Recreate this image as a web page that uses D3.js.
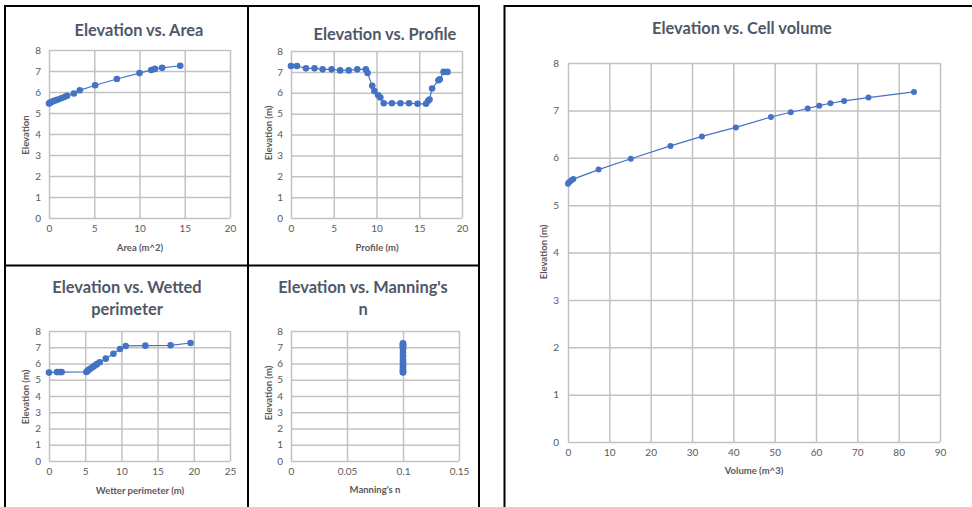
<!DOCTYPE html>
<html>
<head>
<meta charset="utf-8">
<script src="https://cdn.jsdelivr.net/npm/d3@7"></script>
<style>
  html, body { margin: 0; padding: 0; background: #fff; }
  svg { display: block; }
  text { font-family: Lato, "Open Sans", sans-serif; }
</style>
</head>
<body>
<svg id="chart" width="972" height="507"></svg>
<script>
// Elevation vs. Area
const areaValues = [0, 0.1, 0.25, 0.45, 0.7, 1.0, 1.35, 1.7, 2.0, 2.75, 3.4, 5.1, 7.5, 10.0, 11.3, 11.7, 12.5, 14.5];
const areaElevation = [5.45, 5.48, 5.52, 5.56, 5.6, 5.64, 5.7, 5.76, 5.82, 5.93, 6.08, 6.32, 6.62, 6.9, 7.05, 7.1, 7.15, 7.25];

// Elevation vs. Profile
const profileValues = [0, 0.7, 1.75, 2.75, 3.7, 4.75, 5.75, 6.75, 7.75, 8.75, 8.95, 9.5, 9.75, 10.2, 10.45, 10.85, 11.8, 12.8, 13.8, 14.8, 15.8, 16.05, 16.2, 16.5, 17.25, 17.4, 17.85, 18.3];
const profileElevation = [7.28, 7.28, 7.17, 7.17, 7.12, 7.12, 7.07, 7.07, 7.12, 7.12, 6.95, 6.33, 6.08, 5.88, 5.77, 5.5, 5.5, 5.5, 5.5, 5.47, 5.47, 5.62, 5.68, 6.2, 6.6, 6.65, 7.0, 7.0];

// Elevation vs. Wetted perimeter
const perimeterValues = [0, 1.1, 1.45, 1.75, 5.17, 5.35, 5.6, 5.85, 6.1, 6.35, 6.6, 7.0, 7.84, 8.9, 9.8, 10.6, 13.3, 16.8, 19.55];
const perimeterElevation = [5.44, 5.47, 5.47, 5.47, 5.48, 5.56, 5.64, 5.72, 5.8, 5.88, 5.96, 6.08, 6.3, 6.6, 6.89, 7.08, 7.1, 7.12, 7.26];

// Elevation vs. Manning's n
const manningValues = [0.1, 0.1, 0.1, 0.1, 0.1, 0.1, 0.1, 0.1, 0.1, 0.1, 0.1, 0.1, 0.1, 0.1, 0.1, 0.1, 0.1, 0.1];
const manningElevation = [5.45, 5.5, 5.55, 5.65, 5.75, 5.85, 5.98, 6.1, 6.25, 6.45, 6.65, 6.85, 6.97, 7.05, 7.1, 7.15, 7.2, 7.25];

// Elevation vs. Cell volume
const volumeValues = [0, 0.15, 0.5, 0.9, 1.3, 7.4, 15.2, 24.8, 32.4, 40.6, 49.1, 53.9, 58, 60.8, 63.5, 66.8, 72.7, 83.7];
const volumeElevation = [5.45, 5.48, 5.5, 5.53, 5.55, 5.75, 5.98, 6.25, 6.45, 6.64, 6.86, 6.96, 7.04, 7.1, 7.15, 7.2, 7.27, 7.39];

// Axis ticks
const elevationTicks = [0, 1, 2, 3, 4, 5, 6, 7, 8];
const areaTicks = [0, 5, 10, 15, 20];
const profileTicks = [0, 5, 10, 15, 20];
const perimeterTicks = [0, 5, 10, 15, 20, 25];
const manningTicks = [0, 0.05, 0.1, 0.15];
const manningTickLabels = ["0", "0.05", "0.1", "0.15"];
const volumeTicks = [0, 10, 20, 30, 40, 50, 60, 70, 80, 90];

const svg = d3.select("#chart");
const TITLE = "#4f5868";
const LABEL = "#595959";
const GRID = "#c2c2c2";
const SERIES = "#4472c4";

function drawPanel(cfg) {
  const x = d3.scaleLinear().domain([cfg.xTicks[0], cfg.xTicks[cfg.xTicks.length - 1]]).range([cfg.left, cfg.right]);
  const y = d3.scaleLinear().domain([0, 8]).range([cfg.bottom, cfg.top]);
  const g = svg.append("g");

  // gridlines and tick labels
  g.append("g")
    .attr("transform", `translate(0,${cfg.bottom})`)
    .call(d3.axisBottom(x).tickValues(cfg.xTicks).tickSize(-(cfg.bottom - cfg.top))
      .tickFormat((d, i) => cfg.xLabels ? cfg.xLabels[i] : d3.format("~g")(d)).tickPadding(7))
    .call(a => a.select(".domain").remove())
    .call(a => a.selectAll("line").attr("stroke", GRID).attr("stroke-width", 1.5))
    .call(a => a.selectAll("text").attr("fill", LABEL).attr("font-size", cfg.tickSize)
      .style("font-family", "Lato, sans-serif"));

  g.append("g")
    .attr("transform", `translate(${cfg.left},0)`)
    .call(d3.axisLeft(y).tickValues(elevationTicks).tickSize(-(cfg.right - cfg.left)).tickPadding(cfg.yPad))
    .call(a => a.select(".domain").remove())
    .call(a => a.selectAll("line").attr("stroke", GRID).attr("stroke-width", 1.5))
    .call(a => a.selectAll("text").attr("fill", LABEL).attr("font-size", cfg.tickSize)
      .style("font-family", "Lato, sans-serif"));

  const pts = cfg.xs.map((v, i) => [v, cfg.ys[i]]);
  g.append("path")
    .datum(pts)
    .attr("fill", "none")
    .attr("stroke", SERIES)
    .attr("stroke-width", 1.2)
    .attr("d", d3.line().x(d => x(d[0])).y(d => y(d[1])));

  g.selectAll("circle.pt")
    .data(pts)
    .join("circle")
    .attr("class", "pt")
    .attr("cx", d => x(d[0]))
    .attr("cy", d => y(d[1]))
    .attr("r", cfg.r)
    .attr("fill", SERIES);

  // title lines
  cfg.title.forEach((t, i) => {
    g.append("text")
      .attr("x", cfg.titleX)
      .attr("y", cfg.titleY + i * 22)
      .attr("text-anchor", "middle")
      .attr("dominant-baseline", "central")
      .attr("font-size", 16.4)
      .attr("font-weight", 700)
      .attr("fill", TITLE)
      .text(t);
  });

  g.append("text")
    .attr("x", cfg.xTitleX)
    .attr("y", cfg.xTitleY)
    .attr("text-anchor", "middle")
    .attr("dominant-baseline", "central")
    .attr("font-size", cfg.axisTitleSize)
    .attr("font-weight", 700)
    .attr("fill", LABEL)
    .text(cfg.xTitle);

  g.append("text")
    .attr("transform", `translate(${cfg.yTitleX},${cfg.yTitleY}) rotate(-90)`)
    .attr("text-anchor", "middle")
    .attr("dominant-baseline", "central")
    .attr("font-size", cfg.axisTitleSize)
    .attr("font-weight", 700)
    .attr("fill", LABEL)
    .text(cfg.yTitle);
}

drawPanel({
  left: 49, right: 230, top: 50, bottom: 218,
  xTicks: areaTicks, xs: areaValues, ys: areaElevation,
  title: ["Elevation vs. Area"], titleX: 139, titleY: 29,
  xTitle: "Area (m^2)", xTitleX: 140, xTitleY: 247,
  yTitle: "Elevation", yTitleX: 25, yTitleY: 135,
  tickSize: 10, axisTitleSize: 9.5, yPad: 8, r: 3.3
});

drawPanel({
  left: 291, right: 462, top: 51, bottom: 218,
  xTicks: profileTicks, xs: profileValues, ys: profileElevation,
  title: ["Elevation vs. Profile"], titleX: 385, titleY: 33,
  xTitle: "Profile (m)", xTitleX: 377, xTitleY: 247,
  yTitle: "Elevation (m)", yTitleX: 268, yTitleY: 133,
  tickSize: 10, axisTitleSize: 9.5, yPad: 8, r: 3.3
});

drawPanel({
  left: 49, right: 230, top: 331, bottom: 461,
  xTicks: perimeterTicks, xs: perimeterValues, ys: perimeterElevation,
  title: ["Elevation vs. Wetted", "perimeter"], titleX: 127, titleY: 286,
  xTitle: "Wetter perimeter (m)", xTitleX: 140, xTitleY: 490,
  yTitle: "Elevation (m)", yTitleX: 25, yTitleY: 397,
  tickSize: 10, axisTitleSize: 9.5, yPad: 8, r: 3.3
});

drawPanel({
  left: 291, right: 459, top: 331, bottom: 461,
  xTicks: manningTicks, xLabels: manningTickLabels, xs: manningValues, ys: manningElevation,
  title: ["Elevation vs. Manning's", "n"], titleX: 363, titleY: 286,
  xTitle: "Manning's n", xTitleX: 375, xTitleY: 489,
  yTitle: "Elevation (m)", yTitleX: 268, yTitleY: 393,
  tickSize: 10, axisTitleSize: 9.5, yPad: 8, r: 3.3
});

drawPanel({
  left: 568, right: 940, top: 63, bottom: 442,
  xTicks: volumeTicks, xs: volumeValues, ys: volumeElevation,
  title: ["Elevation vs. Cell volume"], titleX: 742, titleY: 27,
  xTitle: "Volume (m^3)", xTitleX: 754, xTitleY: 470,
  yTitle: "Elevation (m)", yTitleX: 543, yTitleY: 252,
  tickSize: 10, axisTitleSize: 9.5, yPad: 9, r: 3
});

// panel frames
const frame = svg.append("g").attr("stroke", "#000").attr("stroke-width", 2).attr("fill", "none");
frame.append("path").attr("d", "M5,510 V6 H479 V510");
frame.append("path").attr("d", "M248,6 V510");
frame.append("path").attr("d", "M5,265.5 H479");
frame.append("path").attr("d", "M504.5,510 V6 H975");
</script>
</body>
</html>
